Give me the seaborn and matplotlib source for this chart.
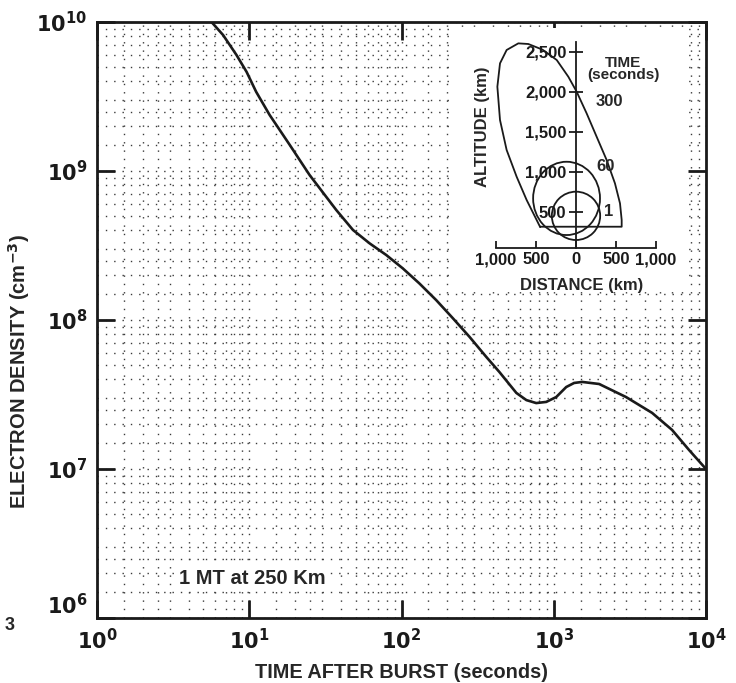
import numpy as np
import pandas as pd
import matplotlib
matplotlib.use('Agg')
import matplotlib.pyplot as plt
import seaborn as sns
from matplotlib.patches import Ellipse
from matplotlib.ticker import FixedLocator, NullFormatter

# Electron density after a 1 MT burst at 250 km
time_s = [5.65, 6.73, 8.24, 9.6, 11.1, 13.6, 18.5, 24.9, 37.3, 48.0, 61.7,
          79.4, 102, 131, 169, 217, 279, 359, 440, 568, 661, 767, 893, 1038,
          1208, 1361, 1538, 1986, 2985, 4426, 5984, 7745, 10000]
density = [1.0e10, 8.18e9, 6.01e9, 4.63e9, 3.40e9, 2.38e9, 1.49e9, 9.4e8,
           5.47e8, 4.02e8, 3.27e8, 2.73e8, 2.22e8, 1.76e8, 1.36e8, 1.03e8, 7.73e7,
           5.68e7, 4.47e7, 3.24e7, 2.90e7, 2.77e7, 2.82e7, 3.04e7, 3.55e7, 3.78e7,
           3.84e7, 3.72e7, 3.04e7, 2.38e7, 1.83e7, 1.34e7, 1.0e7]

x_decades = [1e0, 1e1, 1e2, 1e3, 1e4]
y_decades = [1e6, 1e7, 1e8, 1e9, 1e10]
x_labels = ['$10^0$', '$10^1$', '$10^2$', '$10^3$', '$10^4$']
y_labels = ['$10^6$', '$10^7$', '$10^8$', '$10^9$', '$10^{10}$']
paper_steps = [1, 1.5, 2, 2.5, 3, 4, 5, 6, 7, 8, 9]   # log paper rulings

# inset: cloud shapes (distance km, altitude km)
cloud300_dist = [-450, -492, -617, -742, -867, -950, -983, -950, -867, -721, -596,
                 -420, -241, -96, 8, 133, 258, 383, 487, 550, 571, 571, -450]
cloud300_alt = [316, 400, 650, 941, 1275, 1650, 2066, 2358, 2525, 2608, 2600,
                2530, 2400, 2191, 2004, 1733, 1441, 1150, 858, 608, 400, 316, 316]
cloud60_center = (-118, 670)
cloud60_size = (836, 916)
cloud1_center = (0, 452)
cloud1_size = (604, 604)
dist_ticks = [-1000, -500, 0, 500, 1000]
dist_labels = ['1,000', '500', '0', '500', '1,000']
alt_ticks = [500, 1000, 1500, 2000, 2500]
alt_labels = ['500', '1,000', '1,500', '2,000', '2,500']
time_labels = ['300', '60', '1']
time_label_pos = [(250, 1880), (258, 1066), (350, 500)]

sns.set_style('white')
plt.rcParams['font.family'] = ['Liberation Sans', 'DejaVu Sans']
plt.rcParams['font.weight'] = 'bold'
plt.rcParams['axes.labelweight'] = 'bold'
plt.rcParams['mathtext.default'] = 'bf'
ink = '#1a1a1a'

fig = plt.figure(figsize=(7.36, 6.83), dpi=100)
ax = fig.add_axes([97/736, 65/683, 609/736, 596/683])

df = pd.DataFrame({'t': time_s, 'n': density})
sns.lineplot(data=df, x='t', y='n', ax=ax, color=ink, lw=1.9, sort=False,
             solid_joinstyle='round')
ax.set_xscale('log')
ax.set_yscale('log')
ax.set_xlim(1, 1e4)
ax.set_ylim(1e6, 1e10)

ax.set_xticks(x_decades)
ax.set_xticklabels(x_labels, fontsize=15)
ax.set_yticks(y_decades)
ax.set_yticklabels(y_labels, fontsize=15)
ax.yaxis.get_ticklabels()[0].set_va('bottom')
minor_x = [s * d for d in x_decades[:-1] for s in paper_steps[1:]]
minor_y = [s * d for d in y_decades[:-1] for s in paper_steps[1:]]
ax.xaxis.set_minor_locator(FixedLocator(minor_x))
ax.yaxis.set_minor_locator(FixedLocator(minor_y))
ax.xaxis.set_minor_formatter(NullFormatter())
ax.yaxis.set_minor_formatter(NullFormatter())
ax.tick_params(which='major', direction='in', length=13, width=2,
               left=True, bottom=True, top=True, right=True, pad=7, colors=ink)
ax.tick_params(which='minor', length=0)
ax.grid(which='both', color='#3a3a3a', lw=1.0, ls=(0, (1, 5)))
for s in ax.spines.values():
    s.set_linewidth(2)
    s.set_color(ink)

ax.set_xlabel('TIME AFTER BURST (seconds)', fontsize=14.3)
ax.xaxis.set_label_coords(0.5, -0.075)
ax.set_ylabel('ELECTRON DENSITY (cm$^{-3}$)', fontsize=14.5)
ax.yaxis.set_label_coords(-0.107, 0.413)

ax.text(10.4, 1.85e6, '1 MT at 250 Km', fontsize=14.5, ha='center',
        va='center', bbox=dict(fc='white', ec='none', pad=2))
fig.text(10/736, 1 - 625/683, '3', fontsize=13, ha='center', va='center')

# inset showing the shape of the ionized region
ins = fig.add_axes([450/736, (683-290)/683, 238/736, 262/683])
ins.set_xlim(-1575, 1400)
ins.set_ylim(-475, 2800)
ins.set_facecolor('white')
for s in ['top', 'right']:
    ins.spines[s].set_visible(False)
ins.spines['left'].set_position(('data', 0))
ins.spines['bottom'].set_position(('data', 46))
ins.spines['left'].set_bounds(46, 2630)
ins.spines['bottom'].set_bounds(-1000, 1000)
for s in ['left', 'bottom']:
    ins.spines[s].set_linewidth(1.3)
    ins.spines[s].set_color(ink)

ins.plot(cloud300_dist, cloud300_alt, color=ink, lw=1.3)
for c, (w, h) in [(cloud60_center, cloud60_size), (cloud1_center, cloud1_size)]:
    ins.add_patch(Ellipse(c, w, h, fill=False, ec=ink, lw=1.3))

ins.set_xticks(dist_ticks)
ins.set_xticklabels(dist_labels, fontsize=12)
ins.set_yticks(alt_ticks)
ins.set_yticklabels(alt_labels, fontsize=12)
for lbl in ins.get_yticklabels():
    lbl.set_bbox(dict(fc='white', ec='none', pad=0.5))
ins.tick_params(axis='y', direction='inout', length=10, width=1.3, pad=2,
                left=True, colors=ink)
ins.tick_params(axis='x', direction='in', length=5, width=1.3, pad=3,
                bottom=True, colors=ink)
ins.set_xlabel('DISTANCE (km)', fontsize=12)
ins.xaxis.set_label_coords(75, -330, transform=ins.transData)
ins.set_ylabel('ALTITUDE (km)', fontsize=12)
ins.yaxis.set_label_coords(-1175, 1562, transform=ins.transData)
ins.yaxis.label.set_va('center')

for txt, (xp, yp) in zip(time_labels, time_label_pos):
    ins.text(xp, yp, txt, fontsize=12, ha='left', va='center')
ins.text(590, 2290, 'TIME\n(seconds)', fontsize=11, ha='center', va='center',
         linespacing=0.85)

fig.savefig('out.png', dpi=100, facecolor='white')
